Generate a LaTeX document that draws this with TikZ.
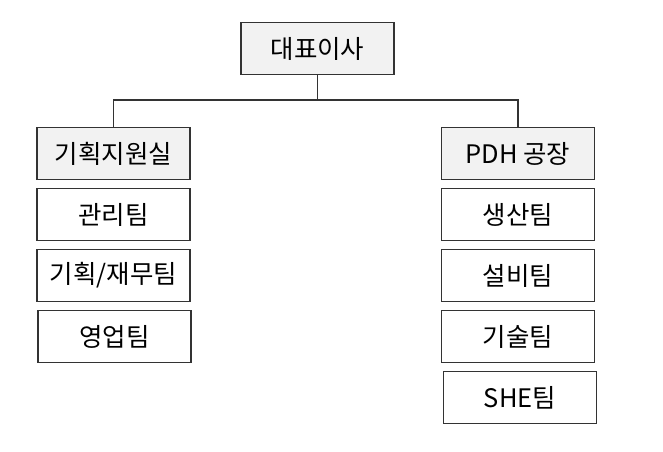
\documentclass[tikz,border=0pt]{standalone}
\usepackage{fontspec}
\setmainfont{Noto Sans CJK KR}
\usetikzlibrary{positioning}
\begin{document}
\begin{tikzpicture}[x=0.02cm,y=-0.02cm,node distance=0.16cm,semithick]
	\tikzstyle{box}=[draw, black!80, text=black, minimum width=3.06cm, minimum height=1.04cm, inner sep=0pt, font=\fontsize{14.5}{16}\selectfont]
	\tikzstyle{head}=[box, fill=black!5]
	\useasboundingbox (0,0) rectangle (663,451);
	\node[head] (ceo) at (317.5,48.5) {대표이사};
	\node[head] (plan) at (113.5,153.5) {기획지원실};
	\node[head] (pdh) at (518,153.5) {PDH 공장};
	\node[box] (mgmt) [below=of plan] {관리팀};
	\node[box] (fin) [below=of mgmt] {기획/재무팀};
	\node[box] (sales) [below=of fin, xshift=0.02cm] {영업팀};
	\node[box] (prod) [below=of pdh] {생산팀};
	\node[box] (fac) [below=of prod] {설비팀};
	\node[box] (tech) [below=of fac] {기술팀};
	\node[box] (she) [below=of tech, xshift=0.04cm] {SHE팀};
	\coordinate (mid) at (317.5,100);
	\draw[black!80] (ceo) -- (mid);
	\draw[black!80] (plan.north) |- (mid) -| (pdh.north);
\end{tikzpicture}
\end{document}
